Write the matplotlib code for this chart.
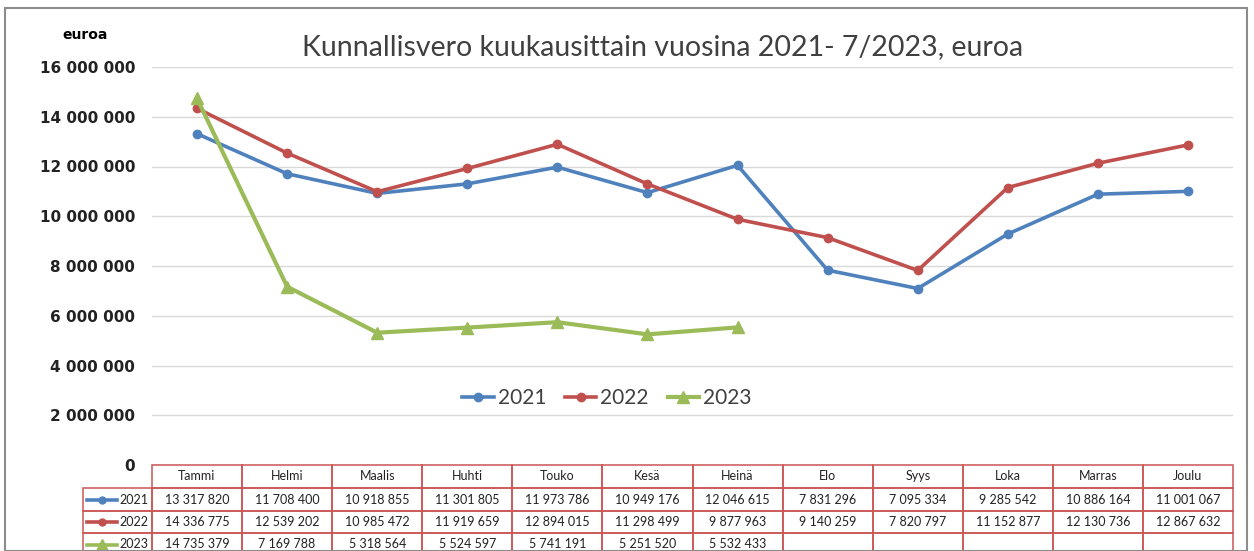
import matplotlib.pyplot as plt
import numpy as np
from matplotlib.lines import Line2D
from matplotlib.patches import Rectangle
from matplotlib.transforms import blended_transform_factory

# データ
kuukaudet = ["Tammi", "Helmi", "Maalis", "Huhti", "Touko", "Kesä",
             "Heinä", "Elo", "Syys", "Loka", "Marras", "Joulu"]
v2021 = [13317820, 11708400, 10918855, 11301805, 11973786, 10949176,
         12046615, 7831296, 7095334, 9285542, 10886164, 11001067]
v2022 = [14336775, 12539202, 10985472, 11919659, 12894015, 11298499,
         9877963, 9140259, 7820797, 11152877, 12130736, 12867632]
v2023 = [14735379, 7169788, 5318564, 5524597, 5741191, 5251520, 5532433]
vuodet = ["2021", "2022", "2023"]
yticks = np.arange(0, 16000001, 2000000)

col_blue = "#4F81BD"
col_red = "#C0504D"
col_green = "#9BBB59"
colors = [col_blue, col_red, col_green]
markers = ["o", "o", "^"]
msizes = [6, 6, 9]
lws = [2.6, 2.6, 3.0]

def fmt(v):
    return f"{v:,}".replace(",", " ")

W, H = 1254, 551
fig = plt.figure(figsize=(12.54, 5.51), dpi=100)
# 外枠
fig.patches.append(Rectangle((5/W, 0), 1242/W, 1 - 8/H, transform=fig.transFigure,
                             fill=False, edgecolor="#8c8c8c", linewidth=1.5))

ax = fig.add_axes([152/W, 1 - 465/H, 1081/W, 398/H])

x = np.arange(len(kuukaudet))
series = [v2021, v2022, v2023]
for i, s in enumerate(series):
    ax.plot(x[:len(s)], s, color=colors[i], linewidth=lws[i], marker=markers[i],
            markersize=msizes[i], label=vuodet[i], zorder=3)

ax.set_xlim(-0.5, 11.5)
ax.set_ylim(0, 16000000)
ax.set_yticks(yticks)
ax.set_yticklabels([fmt(v) for v in yticks], fontsize=11, fontweight="bold", color="#222222")
ax.tick_params(axis="y", length=0, pad=12)
ax.set_xticks([])
for sp in ax.spines.values():
    sp.set_visible(False)
ax.grid(axis="y", color="#d9d9d9", linewidth=1)
ax.set_axisbelow(True)

fig.text(663/W, 1 - 47/H, "Kunnallisvero kuukausittain vuosina 2021- 7/2023, euroa",
         fontsize=20.5, color="#404040", family="Lato", ha="center", va="center")
fig.text(62/W, 1 - 35/H, "euroa", fontsize=10, fontweight="bold", ha="left", va="center")

ax.legend(loc="center", bbox_to_anchor=(607/W, 1 - 398/H), bbox_transform=fig.transFigure,
          ncol=3, frameon=False, prop={"family": "Lato", "size": 15}, handlelength=1.5,
          columnspacing=0.9, handletextpad=0.2, labelcolor="#404040")

# 表（手描き）
tr = blended_transform_factory(ax.transData, ax.transAxes)
def ya(p):
    return (465 - p) / 398
edge = "#CC5555"
row_tops = [465, 488, 511, 533, 556]
colw = 1081 / 12
lab_left = -0.5 - 69 / colw
for r in range(4):
    y0, y1 = ya(row_tops[r + 1]), ya(row_tops[r])
    yc = (y0 + y1) / 2
    for c in range(12):
        ax.add_patch(Rectangle((c - 0.5, y0), 1, y1 - y0, transform=tr, fill=False,
                               edgecolor=edge, linewidth=1.1, clip_on=False))
        if r == 0:
            txt = kuukaudet[c]
        else:
            s = series[r - 1]
            txt = fmt(s[c]) if c < len(s) else ""
        ax.text(c, yc, txt, transform=tr, ha="center", va="center", fontsize=9,
                family="Lato", color="#222222", clip_on=False)
    if r > 0:
        ax.add_patch(Rectangle((lab_left, y0), -0.5 - lab_left, y1 - y0, transform=tr,
                               fill=False, edgecolor=edge, linewidth=1.1, clip_on=False))
        ax.text(-0.535, yc, vuodet[r - 1], transform=tr, ha="right", va="center",
                fontsize=9, family="Lato", color="#222222", clip_on=False)
        i = r - 1
        ax.add_line(Line2D([lab_left + 4/colw, lab_left + 34/colw], [yc, yc], transform=tr,
                           color=colors[i], linewidth=2.6, clip_on=False))
        ax.add_line(Line2D([lab_left + 19/colw], [yc], transform=tr, color=colors[i],
                           marker=markers[i], markersize=msizes[i] - 1, clip_on=False))

fig.savefig("out.png", dpi=100)
